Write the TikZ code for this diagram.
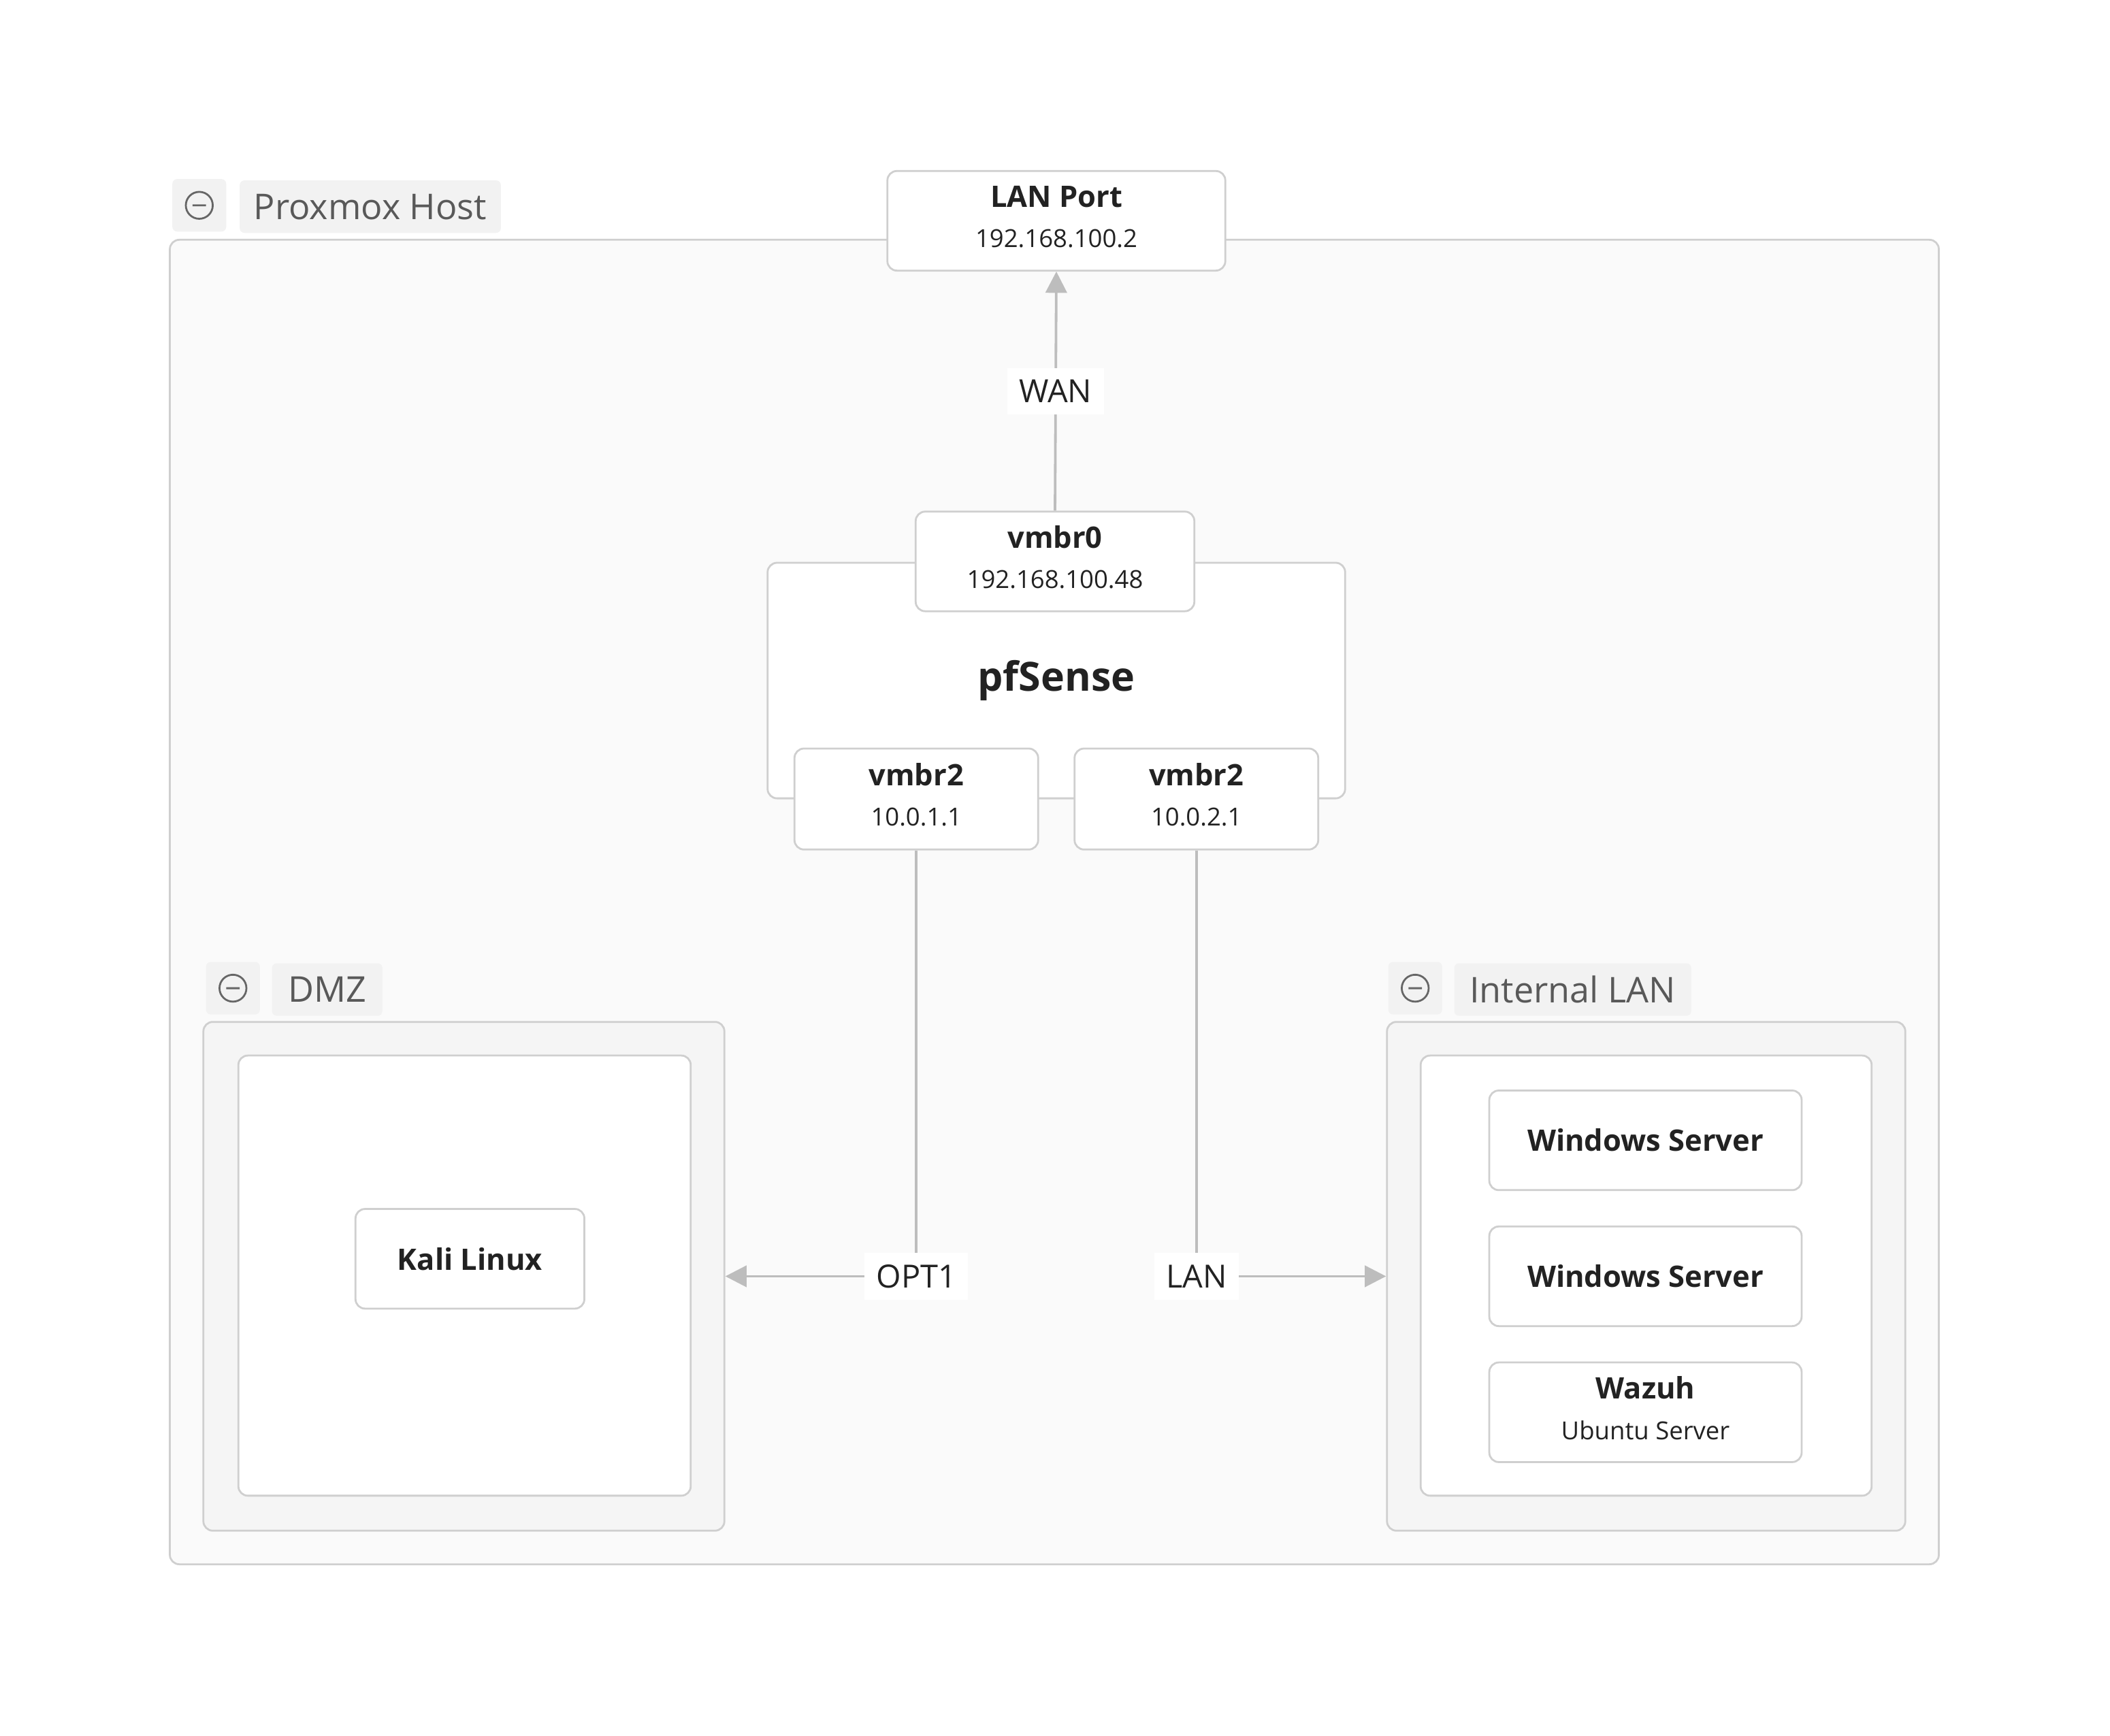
\documentclass[tikz,border=0pt]{standalone}
\usepackage{fontspec}
\setmainfont{Open Sans}
\usetikzlibrary{arrows.meta}
\definecolor{bd}{HTML}{CFCFCF}
\definecolor{ln}{HTML}{BDBDBD}
\definecolor{tab}{HTML}{F2F2F2}
\definecolor{txt}{HTML}{222222}
\newcommand{\twol}[2]{\begin{tabular}{c}{\fontsize{12.5}{15}\selectfont\bfseries #1}\\[5pt]{\fontsize{10.5}{12}\selectfont #2}\end{tabular}}
\begin{document}
\begin{tikzpicture}[x=0.02cm,y=-0.02cm,
  box/.style={draw=bd,fill=white,rounded corners=4pt,line width=0.8pt,align=center,inner sep=0pt,text=txt},
  grp/.style={draw=bd,rounded corners=4pt,line width=0.8pt,inner sep=0pt},
  tabb/.style={fill=tab,rounded corners=2pt,inner sep=0pt,minimum height=0.78cm,text=black!65,font=\fontsize{15}{18}\selectfont},
  conn/.style={draw=ln,line width=1.1pt},
  arr/.style={conn,-{Triangle[length=9pt,width=9pt]}},
  lbl/.style={fill=white,inner sep=5pt,text=txt,font=\fontsize{13.5}{16}\selectfont},
  tt/.style={font=\fontsize{12.5}{15}\selectfont\bfseries}]
\useasboundingbox (0,0) rectangle (1567,1289);
% Proxmox
\node[grp,fill=black!2,minimum width=26.28cm,minimum height=19.68cm] (px) at (783,670) {};
\node[tabb,minimum width=0.8cm] (pxi) at (148,152.5) {};
\draw[black!60,line width=0.8pt] (pxi) circle (0.2cm) ([xshift=-0.1cm]pxi.center) -- ([xshift=0.1cm]pxi.center);
\node[tabb,minimum width=3.88cm] (pxt) at (275,153.5) {Proxmox Host};
% LAN port
\node[box,minimum width=5.02cm,minimum height=1.48cm] (lan) at (784.5,164) {\twol{LAN Port}{192.168.100.2}};
% pfSense
\node[box,minimum width=8.58cm,minimum height=3.5cm,font=\fontsize{17}{20}\selectfont\bfseries] (pf) at (784.5,505.5) {pfSense};
\node[box,minimum width=4.14cm,minimum height=1.48cm] (v0) at (783.5,417) {\twol{vmbr0}{192.168.100.48}};
\node[box,minimum width=3.62cm,minimum height=1.5cm] (v2l) at (680.5,593.5) {\twol{vmbr2}{10.0.1.1}};
\node[box,minimum width=3.62cm,minimum height=1.5cm] (v2r) at (888.5,593.5) {\twol{vmbr2}{10.0.2.1}};
% DMZ
\node[grp,fill=black!4,minimum width=7.74cm,minimum height=7.56cm] (dmz) at (344.5,948) {};
\node[grp,fill=white,minimum width=6.72cm,minimum height=6.54cm] (dmzi) at (345,947.5) {};
\node[tabb,minimum width=0.8cm] (dmi) at (173,734) {};
\draw[black!60,line width=0.8pt] (dmi) circle (0.2cm) ([xshift=-0.1cm]dmi.center) -- ([xshift=0.1cm]dmi.center);
\node[tabb,minimum width=1.64cm] (dmt) at (243,735) {DMZ};
\node[box,minimum width=3.4cm,minimum height=1.48cm,tt] (kali) at (349,935) {Kali Linux};
% Internal LAN
\node[grp,fill=black!4,minimum width=7.7cm,minimum height=7.56cm] (il) at (1222.5,948) {};
\node[grp,fill=white,minimum width=6.7cm,minimum height=6.54cm] (ili) at (1222.5,947.5) {};
\node[tabb,minimum width=0.8cm] (ili2) at (1051,734) {};
\draw[black!60,line width=0.8pt] (ili2) circle (0.2cm) ([xshift=-0.1cm]ili2.center) -- ([xshift=0.1cm]ili2.center);
\node[tabb,minimum width=3.52cm] (ilt) at (1168,735) {Internal LAN};
\node[box,minimum width=4.64cm,minimum height=1.48cm,tt] (ws1) at (1222,847) {Windows Server};
\node[box,minimum width=4.64cm,minimum height=1.48cm,tt] (ws2) at (1222,948) {Windows Server};
\node[box,minimum width=4.64cm,minimum height=1.48cm] (wz) at (1222,1049) {\twol{Wazuh}{Ubuntu Server}};
% connectors
\draw[arr] (v0.north) -- node[lbl,pos=0.5]{WAN} (lan.south);
\coordinate (co) at (v2l.south |- dmz.east);
\draw[arr] (v2l.south) -- (co) -- (dmz.east);
\node[lbl] (ol) at (co) {OPT1};
\coordinate (cl) at (v2r.south |- il.west);
\draw[arr] (v2r.south) -- (cl) -- (il.west);
\node[lbl] (ll) at (cl) {LAN};
\end{tikzpicture}
\end{document}
